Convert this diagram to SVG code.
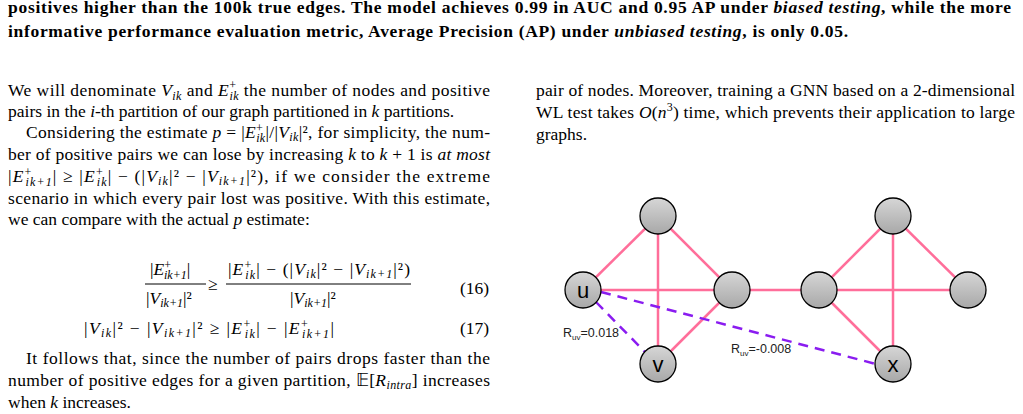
<svg xmlns="http://www.w3.org/2000/svg" width="1023" height="414" viewBox="0 0 1023 414">
<style>
.t{font-family:"Liberation Serif",serif;font-size:17.5px;fill:#000}
.b{font-weight:bold;font-size:17.5px}
.e{stroke:#ff6e9a;stroke-width:2.5}
.d{stroke:#8a1cf0;stroke-width:2.5;stroke-dasharray:10,7}
.n{fill:url(#g);stroke:#000;stroke-width:1.3}
.l{font-family:"Liberation Sans",sans-serif;font-size:22px;text-anchor:middle}
.s{font-family:"Liberation Sans",sans-serif;font-size:12.5px;fill:#222}
</style>
<defs><linearGradient id="g" x1="0" y1="0" x2="0" y2="1"><stop offset="0" stop-color="#d6d6d6"/><stop offset="1" stop-color="#a8a8a8"/></linearGradient></defs>
<rect width="1023" height="414" fill="#fff"/>
<text class="t b" x="8" y="13" textLength="1003" lengthAdjust="spacing">positives higher than the 100k true edges. The model achieves 0.99 in AUC and 0.95 AP under <tspan font-style="italic">biased testing</tspan>, while the more</text>
<text class="t b" x="8" y="37" textLength="840" lengthAdjust="spacing">informative performance evaluation metric, Average Precision (AP) under <tspan font-style="italic">unbiased testing</tspan>, is only 0.05.</text>
<text class="t" x="8" y="96" textLength="482" lengthAdjust="spacing">We will denominate <tspan font-style="italic">V</tspan><tspan font-size="12" dy="4" font-style="italic">ik</tspan><tspan dy="-4"> and </tspan><tspan font-style="italic">E</tspan><tspan font-size="12" dy="-7">+</tspan><tspan font-size="12" dx="-7" dy="11" font-style="italic">ik</tspan><tspan dy="-4"> the number of nodes and positive</tspan></text>
<text class="t" x="8" y="117">pairs in the <tspan font-style="italic">i</tspan>-th partition of our graph partitioned in <tspan font-style="italic">k</tspan> partitions.</text>
<text class="t" x="26" y="138" textLength="464" lengthAdjust="spacing">Considering the estimate <tspan font-style="italic">p</tspan> = |<tspan font-style="italic">E</tspan><tspan font-size="12" dy="-6">+</tspan><tspan font-size="12" dx="-7" dy="10" font-style="italic">ik</tspan><tspan dy="-4">|/|</tspan><tspan font-style="italic">V</tspan><tspan font-size="12" dy="3" font-style="italic">ik</tspan><tspan dy="-3">|², for simplicity, the num-</tspan></text>
<text class="t" x="8" y="160" textLength="482" lengthAdjust="spacing">ber of positive pairs we can lose by increasing <tspan font-style="italic">k</tspan> to <tspan font-style="italic">k</tspan> + 1 is <tspan font-style="italic">at most</tspan></text>
<text class="t" x="8" y="182" textLength="482" lengthAdjust="spacing">|<tspan font-style="italic">E</tspan><tspan font-size="12" dy="-6">+</tspan><tspan font-size="12" dx="-7" dy="10" font-style="italic">ik+1</tspan><tspan dy="-4">| ≥ |</tspan><tspan font-style="italic">E</tspan><tspan font-size="12" dy="-6">+</tspan><tspan font-size="12" dx="-7" dy="10" font-style="italic">ik</tspan><tspan dy="-4">| − (|</tspan><tspan font-style="italic">V</tspan><tspan font-size="12" dy="3" font-style="italic">ik</tspan><tspan dy="-3">|² − |</tspan><tspan font-style="italic">V</tspan><tspan font-size="12" dy="3" font-style="italic">ik+1</tspan><tspan dy="-3">|²), if we consider the extreme</tspan></text>
<text class="t" x="8" y="204" textLength="482" lengthAdjust="spacing">scenario in which every pair lost was positive. With this estimate,</text>
<text class="t" x="8" y="225">we can compare with the actual <tspan font-style="italic">p</tspan> estimate:</text>
<text class="t" x="150" y="275">|<tspan font-style="italic">E</tspan><tspan font-size="12" dy="-6">+</tspan><tspan font-size="12" dx="-7" dy="10" font-style="italic">ik+1</tspan><tspan dy="-4">|</tspan></text>
<line x1="145" y1="284" x2="206" y2="284" stroke="#000" stroke-width="1"/>
<text class="t" x="146" y="304">|<tspan font-style="italic">V</tspan><tspan font-size="12" dy="3" font-style="italic">ik+1</tspan><tspan dy="-3">|²</tspan></text>
<text class="t" x="208" y="290">≥</text>
<text class="t" x="228" y="275" textLength="182" lengthAdjust="spacing">|<tspan font-style="italic">E</tspan><tspan font-size="12" dy="-6">+</tspan><tspan font-size="12" dx="-7" dy="10" font-style="italic">ik</tspan><tspan dy="-4">| − (|</tspan><tspan font-style="italic">V</tspan><tspan font-size="12" dy="3" font-style="italic">ik</tspan><tspan dy="-3">|² − |</tspan><tspan font-style="italic">V</tspan><tspan font-size="12" dy="3" font-style="italic">ik+1</tspan><tspan dy="-3">|²)</tspan></text>
<line x1="226" y1="284" x2="411" y2="284" stroke="#000" stroke-width="1"/>
<text class="t" x="290" y="304">|<tspan font-style="italic">V</tspan><tspan font-size="12" dy="3" font-style="italic">ik+1</tspan><tspan dy="-3">|²</tspan></text>
<text class="t" x="460" y="294">(16)</text>
<text class="t" x="84" y="334" textLength="250" lengthAdjust="spacing">|<tspan font-style="italic">V</tspan><tspan font-size="12" dy="3" font-style="italic">ik</tspan><tspan dy="-3">|² − |</tspan><tspan font-style="italic">V</tspan><tspan font-size="12" dy="3" font-style="italic">ik+1</tspan><tspan dy="-3">|² ≥ |</tspan><tspan font-style="italic">E</tspan><tspan font-size="12" dy="-6">+</tspan><tspan font-size="12" dx="-7" dy="10" font-style="italic">ik</tspan><tspan dy="-4">| − |</tspan><tspan font-style="italic">E</tspan><tspan font-size="12" dy="-6">+</tspan><tspan font-size="12" dx="-7" dy="10" font-style="italic">ik+1</tspan><tspan dy="-4">|</tspan></text>
<text class="t" x="460" y="334">(17)</text>
<text class="t" x="26" y="364" textLength="464" lengthAdjust="spacing">It follows that, since the number of pairs drops faster than the</text>
<text class="t" x="8" y="386" textLength="482" lengthAdjust="spacing">number of positive edges for a given partition, 𝔼[<tspan font-style="italic">R</tspan><tspan font-size="12" dy="3" font-style="italic">intra</tspan><tspan dy="-3">] increases</tspan></text>
<text class="t" x="8" y="408">when <tspan font-style="italic">k</tspan> increases.</text>
<text class="t" x="536" y="96" textLength="479" lengthAdjust="spacing">pair of nodes. Moreover, training a GNN based on a 2-dimensional</text>
<text class="t" x="536" y="118" textLength="479" lengthAdjust="spacing">WL test takes <tspan font-style="italic">O</tspan>(<tspan font-style="italic">n</tspan><tspan font-size="12" dy="-7">3</tspan><tspan dy="7">) time, which prevents their application to large</tspan></text>
<text class="t" x="536" y="140">graphs.</text>
<g id="edges">
<line class="e" x1="583" y1="290" x2="658" y2="216"/>
<line class="e" x1="658" y1="216" x2="732" y2="290"/>
<line class="e" x1="658" y1="216" x2="658" y2="364"/>
<line class="e" x1="583" y1="290" x2="732" y2="290"/>
<line class="e" x1="732" y1="290" x2="658" y2="364"/>
<line class="e" x1="732" y1="290" x2="819" y2="290"/>
<line class="e" x1="819" y1="290" x2="893" y2="216"/>
<line class="e" x1="893" y1="216" x2="968" y2="290"/>
<line class="e" x1="893" y1="216" x2="893" y2="364"/>
<line class="e" x1="819" y1="290" x2="968" y2="290"/>
<line class="e" x1="819" y1="290" x2="893" y2="364"/>
<line class="d" x1="596" y1="302" x2="645" y2="352"/>
<line class="d" x1="601" y1="292" x2="876" y2="364"/>
</g>
<text class="s" x="563" y="337">R<tspan font-size="8" dy="3">uv</tspan><tspan dy="-3">=0.018</tspan></text>
<text class="s" x="731" y="353">R<tspan font-size="8" dy="3">uv</tspan><tspan dy="-3">=-0.008</tspan></text>
<g id="u"><circle class="n" cx="583" cy="290" r="18"/><text class="l" x="583" y="298">u</text></g>
<g id="a"><circle class="n" cx="658" cy="216" r="18"/></g>
<g id="b"><circle class="n" cx="732" cy="290" r="18"/></g>
<g id="v"><circle class="n" cx="658" cy="364" r="18"/><text class="l" x="658" y="372">v</text></g>
<g id="c"><circle class="n" cx="819" cy="290" r="18"/></g>
<g id="d"><circle class="n" cx="893" cy="216" r="18"/></g>
<g id="e"><circle class="n" cx="968" cy="290" r="18"/></g>
<g id="x"><circle class="n" cx="893" cy="364" r="18"/><text class="l" x="893" y="372">x</text></g>
</svg>
